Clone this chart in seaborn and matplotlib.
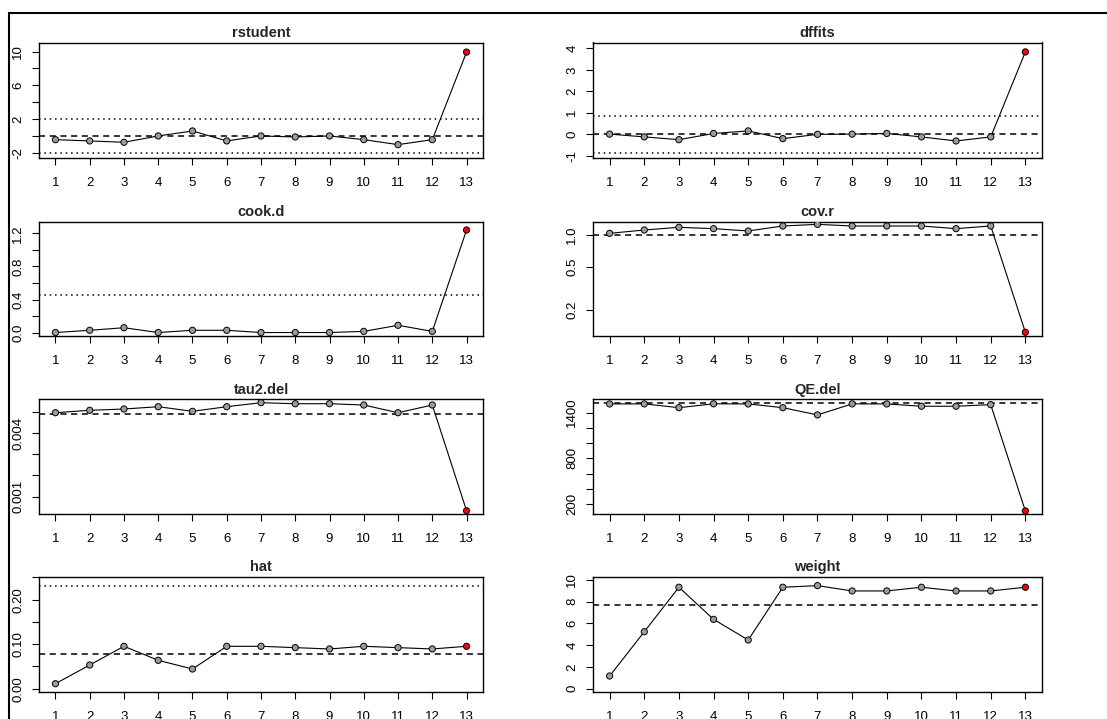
import matplotlib
matplotlib.use("Agg")
import matplotlib.pyplot as plt
from matplotlib.lines import Line2D
from matplotlib.ticker import NullLocator
import numpy as np
import pandas as pd
import seaborn as sns

# study index and influence diagnostics
obs = list(range(1, 14))
rstudent = [-0.44, -0.59, -0.75, 0.0, 0.59, -0.59, 0.0, -0.12, 0.0, -0.44, -1.03, -0.44, 9.94]
dffits = [0.0, -0.13, -0.26, 0.03, 0.15, -0.21, -0.01, 0.0, 0.03, -0.13, -0.32, -0.13, 3.84]
cook_d = [0.002, 0.029, 0.06, 0.002, 0.029, 0.029, 0.002, 0.002, 0.002, 0.016, 0.089, 0.016, 1.24]
cov_r = [1.036, 1.113, 1.179, 1.146, 1.09, 1.213, 1.257, 1.213, 1.213, 1.213, 1.146, 1.213, 0.124]
tau2_del = [0.004953, 0.005066, 0.005127, 0.005235, 0.005019, 0.005235, 0.005424,
            0.005376, 0.005376, 0.005315, 0.004953, 0.005315, 0.000341]
qe_del = [1514, 1515, 1465, 1516, 1514, 1465, 1370, 1515, 1514, 1484, 1484, 1505, 109]
hat = [0.0112, 0.0533, 0.0953, 0.0638, 0.0443, 0.0953, 0.0953, 0.0923, 0.0893, 0.0953, 0.0923, 0.0893, 0.0953]
weight = [1.17, 5.24, 9.33, 6.38, 4.48, 9.33, 9.48, 8.99, 8.99, 9.33, 8.99, 8.99, 9.33]
influential = [False] * 12 + [True]

# reference lines (dashed / dotted)
rstudent_dash, rstudent_dot = [0], [-2, 2]
dffits_dash, dffits_dot = [0], [-0.866, 0.866]
cook_dot = [0.455]
cov_dash = [1.0]
tau2_dash = [0.004892]
qe_dash = [1520]
hat_dash, hat_dot = [1 / 13], [3 / 13]
weight_dash = [100 / 13]

# y ticks and labels
rstudent_ticks = [-2, 0, 2, 4, 6, 8, 10]
rstudent_labels = ["-2", "", "2", "", "6", "", "10"]
dffits_ticks = [-1, 0, 1, 2, 3, 4]
dffits_labels = ["-1", "0", "1", "2", "3", "4"]
cook_ticks = [0.0, 0.2, 0.4, 0.6, 0.8, 1.0, 1.2]
cook_labels = ["0.0", "", "0.4", "", "0.8", "", "1.2"]
cov_ticks = [0.2, 0.5, 1.0]
cov_labels = ["0.2", "0.5", "1.0"]
tau2_ticks = [0.001, 0.002, 0.003, 0.004, 0.005]
tau2_labels = ["0.001", "", "", "0.004", ""]
qe_ticks = [200, 400, 600, 800, 1000, 1200, 1400]
qe_labels = ["200", "", "", "800", "", "", "1400"]
hat_ticks = [0.0, 0.05, 0.10, 0.15, 0.20, 0.25]
hat_labels = ["0.00", "", "0.10", "", "0.20", ""]
weight_ticks = [0, 2, 4, 6, 8, 10]
weight_labels = ["0", "2", "4", "6", "8", "10"]

panels = [
    ("rstudent", rstudent, rstudent_dash, rstudent_dot, rstudent_ticks, rstudent_labels, (-2.65, 11.08), False),
    ("dffits", dffits, dffits_dash, dffits_dot, dffits_ticks, dffits_labels, (-1.13, 4.28), False),
    ("cook.d", cook_d, [], cook_dot, cook_ticks, cook_labels, (-0.04, 1.34), False),
    ("cov.r", cov_r, cov_dash, [], cov_ticks, cov_labels, (0.1145, 1.33), True),
    ("tau2.del", tau2_del, tau2_dash, [], tau2_ticks, tau2_labels, (0.000186, 0.005584), False),
    ("QE.del", qe_del, qe_dash, [], qe_ticks, qe_labels, (69, 1575), False),
    ("hat", hat, hat_dash, hat_dot, hat_ticks, hat_labels, (-0.0074, 0.2517), False),
    ("weight", weight, weight_dash, [], weight_ticks, weight_labels, (-0.30, 10.30), False),
]

sns.set_style("white")
plt.rcParams['font.family'] = ['Liberation Sans', 'DejaVu Sans']

W, H = 1107, 719
fig = plt.figure(figsize=(W / 100, H / 100), dpi=100)

cols = [(39, 483), (593, 1042)]
rows = [(42.5, 158.3), (221.7, 336), (399.3, 514), (576.7, 692)]

for i, (name, vals, dash, dot, yt, ylab, ylim, logy) in enumerate(panels):
    x0, x1 = cols[i % 2]
    y0, y1 = rows[i // 2]
    ax = fig.add_axes([x0 / W, 1 - y1 / H, (x1 - x0) / W, (y1 - y0) / H])

    df = pd.DataFrame({"obs": obs, "value": vals, "infl": influential})
    sns.lineplot(data=df, x="obs", y="value", color="black", lw=0.8, ax=ax, zorder=2)
    for v in dash:
        ax.axhline(v, color="black", lw=1.1, ls=(0, (4, 3)), zorder=1)
    for v in dot:
        ax.axhline(v, color="black", lw=1.1, ls=(0, (1, 2.5)), zorder=1)
    sns.scatterplot(data=df, x="obs", y="value", hue="infl",
                    palette={False: "#9c9c9c", True: "#ff0000"},
                    edgecolor="black", linewidth=0.7, s=20, legend=False, ax=ax, zorder=3)

    if logy:
        ax.set_yscale("log")
        ax.yaxis.set_minor_locator(NullLocator())
    ax.set_xlim(0.52, 13.48)
    ax.set_ylim(*ylim)
    ax.set_xticks(obs)
    ax.set_xticklabels([str(o) for o in obs])
    ax.set_yticks(yt)
    ax.set_yticklabels(ylab, rotation=90, va="center")
    ax.set_xlabel("")
    ax.set_ylabel("")
    ax.set_title(name, fontweight="bold", fontsize=10.5, pad=4)
    ax.tick_params(axis="both", direction="out", length=5, width=0.8, labelsize=9.5,
                   colors="black", left=True, bottom=True)
    ax.tick_params(axis="x", pad=8.5)
    ax.tick_params(axis="y", pad=5.5)
    for sp in ax.spines.values():
        sp.set_visible(True)
        sp.set_color("black")
        sp.set_linewidth(1.0)

# frame of the screenshot (top and left edges)
fig.add_artist(Line2D([9 / W, 9 / W], [0, 1 - 12.5 / H], color="black", lw=1.5))
fig.add_artist(Line2D([9 / W, 1], [1 - 12.5 / H, 1 - 12.5 / H], color="black", lw=1.5))

fig.savefig("out.png", dpi=100)
